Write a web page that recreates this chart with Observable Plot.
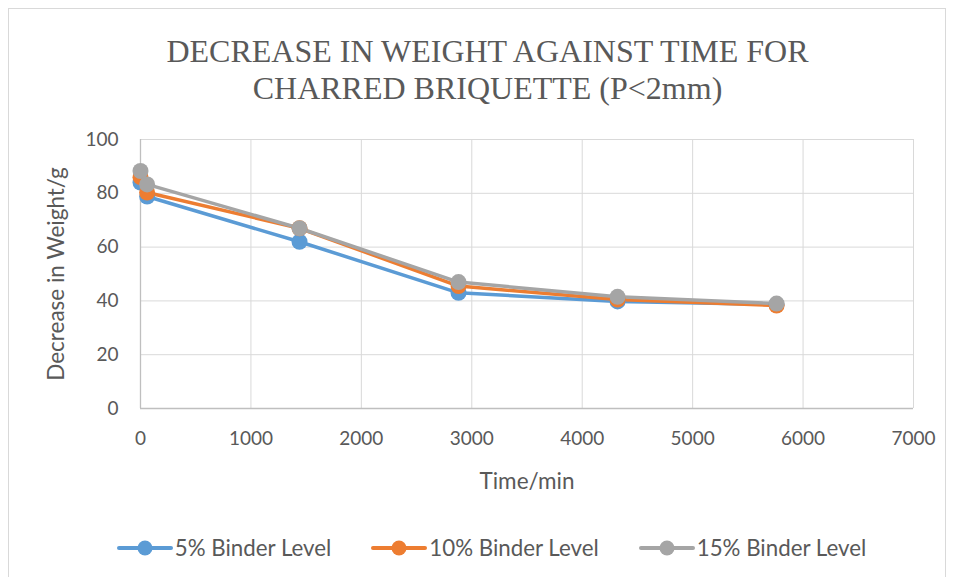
<!DOCTYPE html>
<html><head><meta charset="utf-8">
<script src="https://cdn.jsdelivr.net/npm/d3@7"></script>
<script src="https://cdn.jsdelivr.net/npm/@observablehq/plot@0.6"></script>
<style>
body{margin:0;background:#fff;width:955px;height:577px;overflow:hidden;position:relative;font-family:Lato,"Open Sans",sans-serif;}
#frame{position:absolute;left:8px;top:8px;width:938px;height:600px;border:1px solid #d9d9d9;box-sizing:border-box;}
#title{position:absolute;left:0;top:33px;width:975px;text-align:center;font-family:"Liberation Serif","Times New Roman",serif;font-size:32px;line-height:37px;color:#595959;}
#chart{position:absolute;left:0;top:110px;}
#chart g[aria-label="x-axis label"] text, #chart g[aria-label="y-axis label"] text{font-size:22.5px;}
#legend{position:absolute;left:14px;top:534px;width:955px;display:flex;justify-content:center;gap:40px;font-size:22.3px;color:#595959;}
.li{display:flex;align-items:center;gap:2px;}
</style></head><body>
<div id="frame"></div>
<div id="title">DECREASE IN WEIGHT AGAINST TIME FOR<br>CHARRED BRIQUETTE (P&lt;2mm)</div>
<div id="chart"></div>
<div id="legend"></div>
<script>
const times = [0, 60, 1440, 2880, 4320, 5760];
const binder5 = [84, 78.8, 62, 43, 39.8, 38.7];
const binder10 = [86, 80.3, 67, 45.5, 40.5, 38.3];
const binder15 = [88.3, 83.3, 67, 47, 41.5, 39];
const seriesNames = ["5% Binder Level", "10% Binder Level", "15% Binder Level"];
const seriesColors = ["#5b9bd5", "#ed7d31", "#a5a5a5"];
const xTicks = [0, 1000, 2000, 3000, 4000, 5000, 6000, 7000];
const yTicks = [0, 20, 40, 60, 80, 100];

const allSeries = [binder5, binder10, binder15];
const data = [];
allSeries.forEach((vals, i) => vals.forEach((v, j) => data.push({series: seriesNames[i], t: times[j], w: v})));

const chart = Plot.plot({
  width: 955, height: 400,
  marginLeft: 140, marginRight: 42, marginTop: 29, marginBottom: 102,
  style: {fontFamily: "Lato, 'Open Sans', sans-serif", fontSize: "19px", color: "#595959", background: "transparent"},
  x: {domain: [0, 7000]},
  y: {domain: [0, 100]},
  color: {domain: seriesNames, range: seriesColors},
  marks: [
    Plot.gridX(xTicks, {stroke: "#d9d9d9", strokeOpacity: 1, strokeWidth: 1}),
    Plot.gridY(yTicks, {stroke: "#d9d9d9", strokeOpacity: 1, strokeWidth: 1}),
    Plot.ruleY([0], {stroke: "#bfbfbf", strokeWidth: 1.3}),
    Plot.ruleX([0], {stroke: "#bfbfbf", strokeWidth: 1.3}),
    Plot.axisX({ticks: xTicks, tickSize: 0, tickPadding: 23, tickFormat: d => String(d), label: "Time/min", labelAnchor: "center", labelArrow: "none", labelOffset: 80, fontSize: 19}),
    Plot.axisY({ticks: yTicks, tickSize: 0, tickPadding: 22, label: "Decrease in Weight/g", labelAnchor: "center", labelArrow: "none", labelOffset: 92, fontSize: 19}),
    Plot.line(data, {x: "t", y: "w", z: "series", stroke: "series", strokeWidth: 3.5, strokeLinejoin: "round"}),
    Plot.dot(data, {x: "t", y: "w", fill: "series", r: 8, stroke: "none"})
  ]
});
document.getElementById("chart").appendChild(chart);

const legend = document.getElementById("legend");
seriesNames.forEach((name, i) => {
  const item = document.createElement("div");
  item.className = "li";
  item.innerHTML = `<svg width="56" height="20"><line x1="2" y1="10" x2="54" y2="10" stroke="${seriesColors[i]}" stroke-width="4" stroke-linecap="round"/><circle cx="28" cy="10" r="7.5" fill="${seriesColors[i]}"/></svg><span>${name}</span>`;
  legend.appendChild(item);
});
</script>
</body></html>
